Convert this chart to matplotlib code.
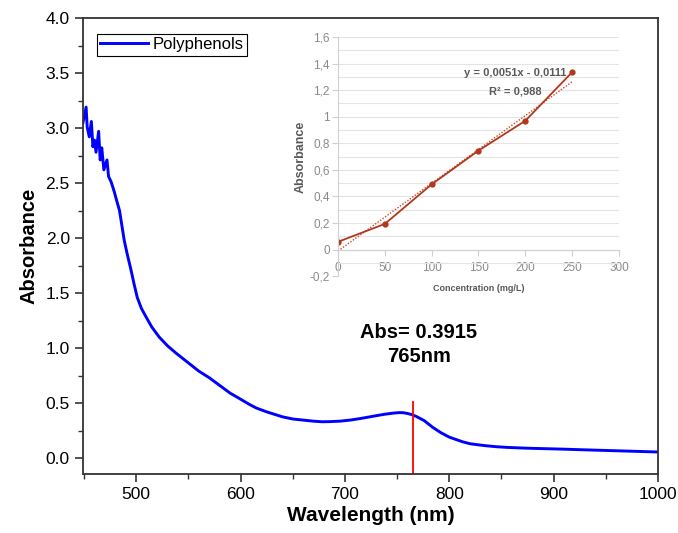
import matplotlib.pyplot as plt
import numpy as np
from matplotlib.ticker import MultipleLocator, FuncFormatter

plt.rcParams['font.family'] = ['Liberation Sans', 'DejaVu Sans']

# UV-Vis spectrum
wavelength = [449, 452, 453, 455, 457, 458.5, 460, 461.5, 464, 465.5, 467, 469,
              472, 473.5, 476, 479, 481, 484, 488.5, 491, 495, 498, 501, 505,
              509.6, 515, 522, 530, 538, 548, 560, 570, 580, 590, 600, 608, 615,
              625, 640, 650, 660, 670, 678, 685, 695, 705, 714, 720, 730, 738,
              746, 752, 756, 760, 764, 768, 772, 776, 780, 784, 788, 792, 796,
              800, 806, 813, 820, 828, 835, 845, 855, 870, 880, 909, 925, 950,
              975, 1000]
absorbance = [3.05, 3.19, 3.01, 2.92, 3.06, 2.83, 2.89, 2.78, 2.97, 2.71, 2.82, 2.62,
              2.71, 2.56, 2.51, 2.42, 2.35, 2.25, 1.98, 1.87, 1.71, 1.58, 1.46, 1.36,
              1.28, 1.19, 1.10, 1.02, 0.955, 0.88, 0.79, 0.73, 0.66, 0.59, 0.535, 0.49, 0.455,
              0.42, 0.375, 0.355, 0.345, 0.335, 0.33, 0.331, 0.335, 0.345, 0.358, 0.368, 0.385, 0.398,
              0.408, 0.413, 0.412, 0.405, 0.395, 0.38, 0.36, 0.34, 0.31, 0.28, 0.255, 0.23, 0.21,
              0.19, 0.17, 0.147, 0.13, 0.12, 0.112, 0.103, 0.097, 0.091, 0.088, 0.081, 0.076, 0.069,
              0.062, 0.055]

peak_nm = 765
peak_label = "Abs= 0.3915\n765nm"

# calibration curve (inset)
conc = [0, 50, 100, 150, 200, 250]
calib_abs = [0.058, 0.193, 0.491, 0.745, 0.970, 1.336]
slope, intercept = 0.0051, -0.0111

fig = plt.figure(figsize=(6.78, 5.33), dpi=100)
ax = fig.add_axes([0.1224, 0.1107, 0.8481, 0.8555])

ax.plot(wavelength, absorbance, color="#0000ff", lw=2.1, label="Polyphenols",
        solid_joinstyle="round")
ax.plot([peak_nm, peak_nm], [-0.2, 0.51], color="#ff0000", lw=1.3)
ax.text(771, 1.03, peak_label, ha="center", va="center", fontsize=14.5,
        fontweight="bold", linespacing=1.3)

ax.set_xlim(449, 1000)
ax.set_ylim(-0.145, 4.0)
ax.xaxis.set_major_locator(MultipleLocator(100))
ax.xaxis.set_minor_locator(MultipleLocator(50))
ax.yaxis.set_major_locator(MultipleLocator(0.5))
ax.yaxis.set_minor_locator(MultipleLocator(0.25))
ax.yaxis.set_major_formatter(FuncFormatter(lambda v, p: f"{v:.1f}"))
ax.tick_params(which="major", length=6, width=1.2, labelsize=12.5, color="#333333")
ax.tick_params(which="minor", length=3.5, width=1.0, color="#333333")
for s in ax.spines.values():
    s.set_linewidth(1.3)
    s.set_color("#333333")
ax.set_xlabel("Wavelength (nm)", fontsize=15, fontweight="bold", labelpad=3)
ax.set_ylabel("Absorbance", fontsize=14.5, fontweight="bold", labelpad=5)

leg = ax.legend(loc="upper left", bbox_to_anchor=(0.024, 0.965), fontsize=12,
                fancybox=False, framealpha=1, edgecolor="black",
                handlelength=2.9, handletextpad=0.25, borderpad=0.2,
                borderaxespad=0)
leg.get_frame().set_linewidth(0.8)

# inset calibration chart
gray = "#595959"
ins = fig.add_axes([0.4985, 0.482, 0.4145, 0.4484])
ins.set_xlim(0, 300)
ins.set_ylim(-0.2, 1.6)
ins.yaxis.set_major_locator(MultipleLocator(0.2))
ins.yaxis.set_minor_locator(MultipleLocator(0.1))
ins.xaxis.set_major_locator(MultipleLocator(50))
ins.grid(True, which="both", axis="y", color="#e3e3e3", lw=0.8)
ins.set_axisbelow(True)
for s in ["top", "right"]:
    ins.spines[s].set_visible(False)
ins.spines["bottom"].set_position(("data", 0))
ins.spines["bottom"].set_color("#d0d0d0")
ins.spines["left"].set_color("#d0d0d0")
ins.tick_params(which="major", length=4, width=0.8, color="#d0d0d0",
                labelsize=8.5, labelcolor="#8a8a8a", pad=2)
ins.tick_params(which="minor", length=0)
ins.tick_params(axis="x", pad=5)


def comma_fmt(v, p):
    if abs(v) < 1e-9:
        return "0"
    if abs(v - round(v)) < 1e-9:
        return f"{v:.0f}"
    return f"{v:.1f}".replace(".", ",")


ins.yaxis.set_major_formatter(FuncFormatter(comma_fmt))
ins.xaxis.set_major_formatter(FuncFormatter(lambda v, p: f"{v:.0f}"))

red = "#b0381c"
fit_x = np.array([conc[0], conc[-1]])
ins.plot(fit_x, slope * fit_x + intercept, color="#d2452a", lw=1.0, ls=(0, (1, 1.2)))
ins.plot(conc, calib_abs, color=red, lw=1.3, marker="o", ms=3.5)
ins.text(189, 1.33, "y = 0,0051x - 0,0111", ha="center", va="center",
         fontsize=8, fontweight="bold", color=gray)
ins.text(189, 1.19, "R² = 0,988", ha="center", va="center",
         fontsize=8, fontweight="bold", color=gray)
ins.set_ylabel("Absorbance", fontsize=9, fontweight="bold", color=gray, labelpad=2)
ins.set_xlabel("Concentration (mg/L)", fontsize=6.5, fontweight="bold", color=gray)
ins.xaxis.set_label_coords(0.5, -0.035)

fig.savefig("out.png", dpi=100)
